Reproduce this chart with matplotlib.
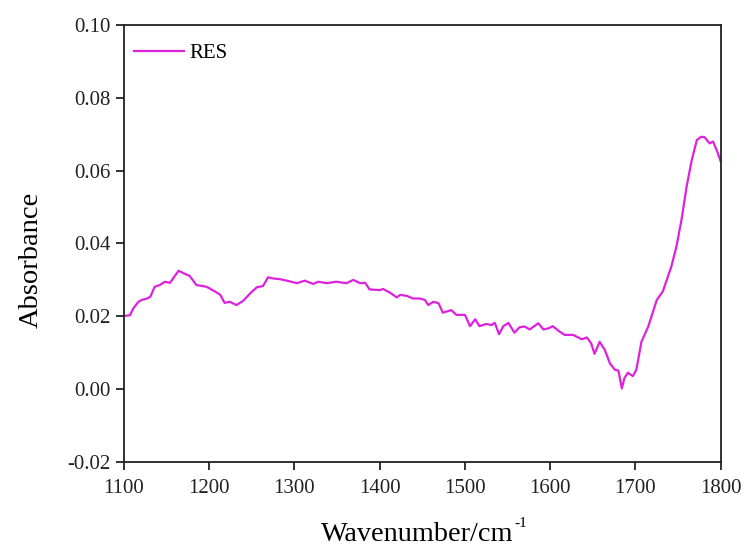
import matplotlib
matplotlib.use("Agg")
import matplotlib.pyplot as plt

plt.rcParams["font.family"] = ["Liberation Serif", "DejaVu Serif"]
plt.rcParams["axes.unicode_minus"] = False

# spectrum
wavenumber = [1100, 1107, 1111, 1117, 1121, 1127, 1131, 1136, 1142, 1148, 1154, 1164,
              1172, 1177, 1185, 1197, 1207, 1213, 1218, 1224, 1232, 1240, 1248, 1256,
              1263, 1269, 1275, 1283, 1291, 1303, 1312, 1322, 1328, 1338, 1349, 1361,
              1369, 1377, 1383, 1388, 1400, 1404, 1412, 1420, 1424, 1432, 1439, 1447,
              1453, 1457, 1463, 1469, 1474, 1484, 1490, 1500, 1506, 1512, 1517, 1525,
              1531, 1535, 1540, 1545, 1551, 1558, 1564, 1570, 1576, 1586, 1592, 1598,
              1603, 1611, 1617, 1627, 1637, 1643, 1648, 1652, 1658, 1664, 1670, 1676,
              1680, 1684, 1687, 1691, 1697, 1701, 1707, 1715, 1725, 1732, 1742, 1748,
              1754, 1760, 1766, 1772, 1777, 1781, 1787, 1791, 1796, 1800]
absorbance = [0.0201, 0.0203, 0.0222, 0.0240, 0.0245, 0.0249, 0.0254, 0.0281, 0.0286, 0.0295,
              0.0292, 0.0325, 0.0316, 0.0311, 0.0286, 0.0281, 0.0268, 0.0259, 0.0237, 0.0240,
              0.0231, 0.0243, 0.0263, 0.0280, 0.0283, 0.0307, 0.0304, 0.0302, 0.0298, 0.0291,
              0.0298, 0.0289, 0.0295, 0.0291, 0.0295, 0.0291, 0.0300, 0.0291, 0.0292, 0.0274,
              0.0272, 0.0275, 0.0265, 0.0252, 0.0259, 0.0256, 0.0249, 0.0249, 0.0245, 0.0231,
              0.0240, 0.0236, 0.0210, 0.0217, 0.0204, 0.0204, 0.0173, 0.0192, 0.0173, 0.0179,
              0.0176, 0.0182, 0.0151, 0.0173, 0.0182, 0.0155, 0.0170, 0.0172, 0.0164, 0.0181,
              0.0164, 0.0167, 0.0173, 0.0158, 0.0149, 0.0149, 0.0137, 0.0142, 0.0126, 0.0097,
              0.0130, 0.0108, 0.0071, 0.0053, 0.0051, 0.0002, 0.0030, 0.0045, 0.0036, 0.0053,
              0.0130, 0.0172, 0.0245, 0.0268, 0.0336, 0.0391, 0.0465, 0.0556, 0.0629, 0.0684,
              0.0693, 0.0692, 0.0675, 0.0680, 0.0652, 0.0625]

fig = plt.figure(figsize=(7.45, 5.47), dpi=100)
ax = fig.add_axes([0.1664, 0.1554, 0.801, 0.7989])

ax.plot(wavenumber, absorbance, color="#dd22dd", lw=1.6, label="RES")

ax.set_xlim(1100, 1800)
ax.set_ylim(-0.02, 0.10)
ax.set_xticks(range(1100, 1801, 100))
ax.set_yticks([-0.02, 0.00, 0.02, 0.04, 0.06, 0.08, 0.10])
ax.set_yticklabels(["-0.02", "0.00", "0.02", "0.04", "0.06", "0.08", "0.10"])
ax.tick_params(direction="out", length=6, width=1.3, labelsize=15, colors="#222222")
ax.tick_params(axis="x", pad=6)
for s in ax.spines.values():
    s.set_linewidth(1.3)
    s.set_color("#222222")

# x label with a small "-1" superscript
fig.text(0.6886, 0.011, "Wavenumber/cm", fontsize=20.3, ha="right", va="baseline")
fig.text(0.691, 0.0366, "-1", fontsize=11, ha="left", va="baseline")

ax.set_ylabel("Absorbance", fontsize=20.5)
ax.yaxis.set_label_coords(-0.135, 0.462)

ax.legend(loc="upper left", bbox_to_anchor=(-0.0067, 0.9886), frameon=False,
          fontsize=15, handlelength=2.4, borderaxespad=0.25, handletextpad=0.3)

fig.savefig("out.png", dpi=100)
